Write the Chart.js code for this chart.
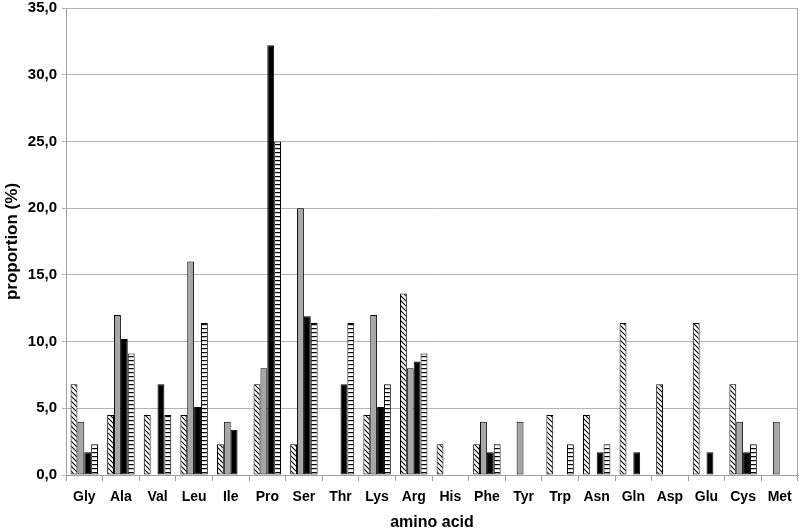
<!DOCTYPE html>
<html><head><meta charset="utf-8">
<script src="https://cdn.jsdelivr.net/npm/chart.js@4/dist/chart.umd.min.js"></script>
<style>html,body{margin:0;padding:0;background:#fff}#wrap{width:800px;height:532px}</style>
</head><body><div id="wrap"><canvas id="c" width="800" height="532"></canvas></div>
<script>
const categories = ["Gly","Ala","Val","Leu","Ile","Pro","Ser","Thr","Lys","Arg","His","Phe","Tyr","Trp","Asn","Gln","Asp","Glu","Cys","Met"];
const seriesHatched = [6.8,4.5,4.5,4.5,2.3,6.8,2.3,null,4.5,13.6,2.3,2.3,null,4.5,4.5,11.4,6.8,11.4,6.8,null];
const seriesGray    = [4.0,12.0,null,16.0,4.0,8.0,20.0,null,12.0,8.0,null,4.0,4.0,null,null,null,null,null,4.0,4.0];
const seriesBlack   = [1.7,10.2,6.8,5.1,3.4,32.2,11.9,6.8,5.1,8.5,null,1.7,null,null,1.7,1.7,null,1.7,1.7,null];
const seriesStriped = [2.3,9.1,4.5,11.4,null,25.0,11.4,11.4,6.8,9.1,null,2.3,null,2.3,2.3,null,null,null,2.3,null];
const yTicks = [0,5,10,15,20,25,30,35];

function makeHatch(){
  const s=5, c=document.createElement('canvas'); c.width=s; c.height=s;
  const x=c.getContext('2d'); x.fillStyle='#fff'; x.fillRect(0,0,s,s);
  x.strokeStyle='#000'; x.lineWidth=1.1;
  x.beginPath();
  x.moveTo(-1,-1); x.lineTo(s+1,s+1);
  x.moveTo(-1,s-1); x.lineTo(1,s+1);
  x.moveTo(s-1,-1); x.lineTo(s+1,1);
  x.stroke();
  return x.createPattern(c,'repeat');
}
function makeStripes(){
  const c=document.createElement('canvas'); c.width=4; c.height=4;
  const x=c.getContext('2d'); x.fillStyle='#fff'; x.fillRect(0,0,4,4);
  x.fillStyle='#000'; x.fillRect(0,0,4,1.2);
  return x.createPattern(c,'repeat');
}

const font = 'Liberation Sans, Arial, sans-serif';
const borderPlugin = {
  id:'plotBorder',
  afterDraw(chart){
    const a=chart.chartArea, ctx=chart.ctx;
    ctx.save(); ctx.strokeStyle='#a8a8a8'; ctx.lineWidth=1;
    ctx.beginPath();
    ctx.moveTo(Math.round(a.right)-0.5, a.top); ctx.lineTo(Math.round(a.right)-0.5, a.bottom);
    ctx.stroke(); ctx.restore();
  }
};

new Chart(document.getElementById('c'), {
  type:'bar',
  data:{
    labels:categories,
    datasets:[
      {label:'a', data:seriesHatched, backgroundColor:makeHatch(), borderColor:'#000', borderWidth:1},
      {label:'b', data:seriesGray, backgroundColor:'#a6a6a6', borderColor:'#000', borderWidth:1},
      {label:'c', data:seriesBlack, backgroundColor:'#000', borderColor:'#000', borderWidth:1},
      {label:'d', data:seriesStriped, backgroundColor:makeStripes(), borderColor:'#000', borderWidth:1}
    ]
  },
  options:{
    responsive:false, animation:false,
    layout:{padding:{top:0,right:2,left:0,bottom:0}},
    datasets:{bar:{barPercentage:1.0, categoryPercentage:0.75, borderSkipped:false}},
    plugins:{legend:{display:false}, tooltip:{enabled:false}},
    scales:{
      x:{
        grid:{offset:true, drawOnChartArea:false, drawTicks:true, tickLength:6, color:'#a0a0a0'},
        border:{color:'#a0a0a0'},
        ticks:{color:'#000', font:{family:font, size:14, weight:'bold'}, padding:8, maxRotation:0, autoSkip:false},
        title:{display:true, text:'amino acid', color:'#000', font:{family:font, size:16, weight:'bold'}, padding:{top:4,bottom:0}},
        afterFit(s){ s.height = 57; }
      },
      y:{
        min:0, max:35,
        afterBuildTicks(s){ s.ticks = yTicks.map(v=>({value:v})); },
        grid:{color:'#b4b4b4', tickLength:4, drawTicks:true},
        border:{color:'#a0a0a0'},
        ticks:{color:'#000', font:{family:font, size:15, weight:'bold', lineHeight:0.4}, padding:5,
          callback:(v)=>Number(v).toFixed(1).replace('.',',')},
        title:{display:true, text:'proportion (%)', color:'#000', font:{family:font, size:17, weight:'bold'}, padding:{top:2,bottom:4}},
        afterFit(s){ s.width = 66; }
      }
    }
  },
  plugins:[borderPlugin]
});
</script></body></html>
